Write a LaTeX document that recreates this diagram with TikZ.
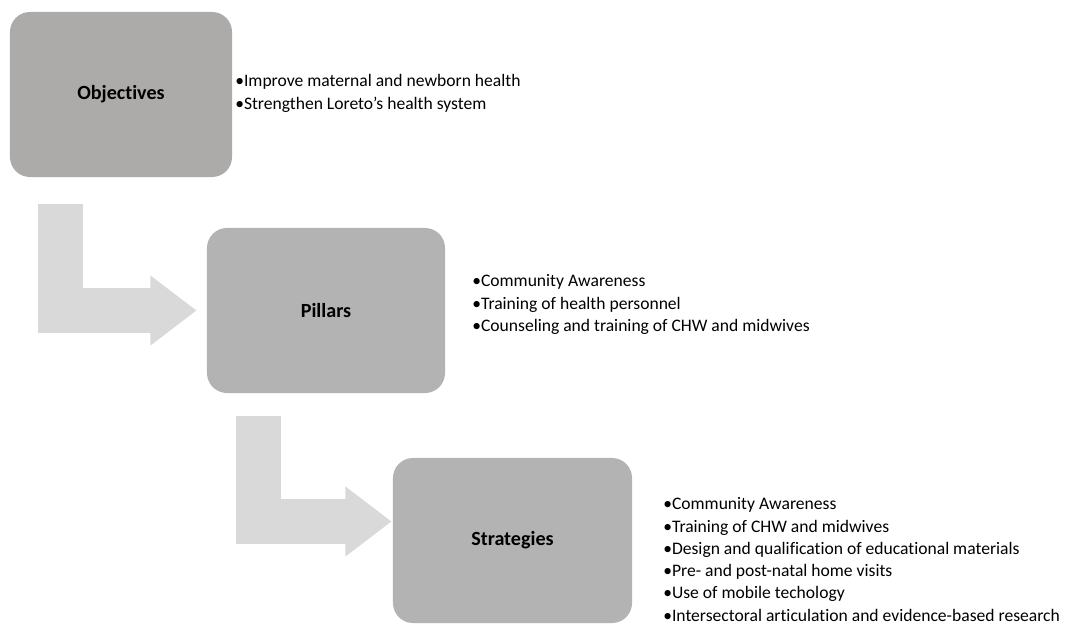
\documentclass[tikz,border=0pt]{standalone}
\usepackage{fontspec}
\setmainfont{Carlito}[Ligatures=NoCommon]
\usetikzlibrary{arrows.meta,calc}
\definecolor{objgray}{RGB}{173,170,170}
\definecolor{boxgray}{RGB}{179,179,179}
\definecolor{arrgray}{RGB}{217,217,217}

\begin{document}
\begin{tikzpicture}[x=0.025cm,y=-0.025cm,
 stage/.style={rounded corners=0.5cm,fill=boxgray,minimum height=4.125cm,inner sep=0pt,font=\fontsize{14.3}{17}\selectfont\bfseries},
 items/.style={anchor=west,align=left,inner sep=0pt,font=\fontsize{12.5}{15.8}\selectfont},
 elbow/.style={draw=arrgray,line width=32pt,line join=miter,-{Triangle[length=33pt,width=47.7pt]}}]
\useasboundingbox (0,0) rectangle (1079,625);
\node[stage,fill=objgray,minimum width=5.55cm] (obj) at (121,94.5) {Objectives};
\node[stage,minimum width=5.95cm] (pil) at (326,310.5) {Pillars};
\node[stage,minimum width=5.975cm] (str) at (512.5,540.5) {Strategies};
\node[items] (objtxt) at (235,93.5) {•Improve maternal and newborn health\\•Strengthen Loreto’s health system};
\node[items] (piltxt) at (472,304.5) {•Community Awareness\\•Training of health personnel\\•Counseling and training of CHW and midwives};
\node[items] (strtxt) at (663,559.5) {•Community Awareness\\•Training of CHW and midwives\\•Design and qualification of educational materials\\•Pre- and post-natal home visits\\•Use of mobile techology\\•Intersectoral articulation and evidence-based research};
\draw[elbow] ([xshift=1.26cm,yshift=-0.675cm]obj.south west) |- ([xshift=-0.25cm]pil.west);
\draw[elbow] ([xshift=1.3cm,yshift=-0.575cm]pil.south west) |- ([xshift=-0.025cm,yshift=0.475cm]str.west);
\end{tikzpicture}
\end{document}
